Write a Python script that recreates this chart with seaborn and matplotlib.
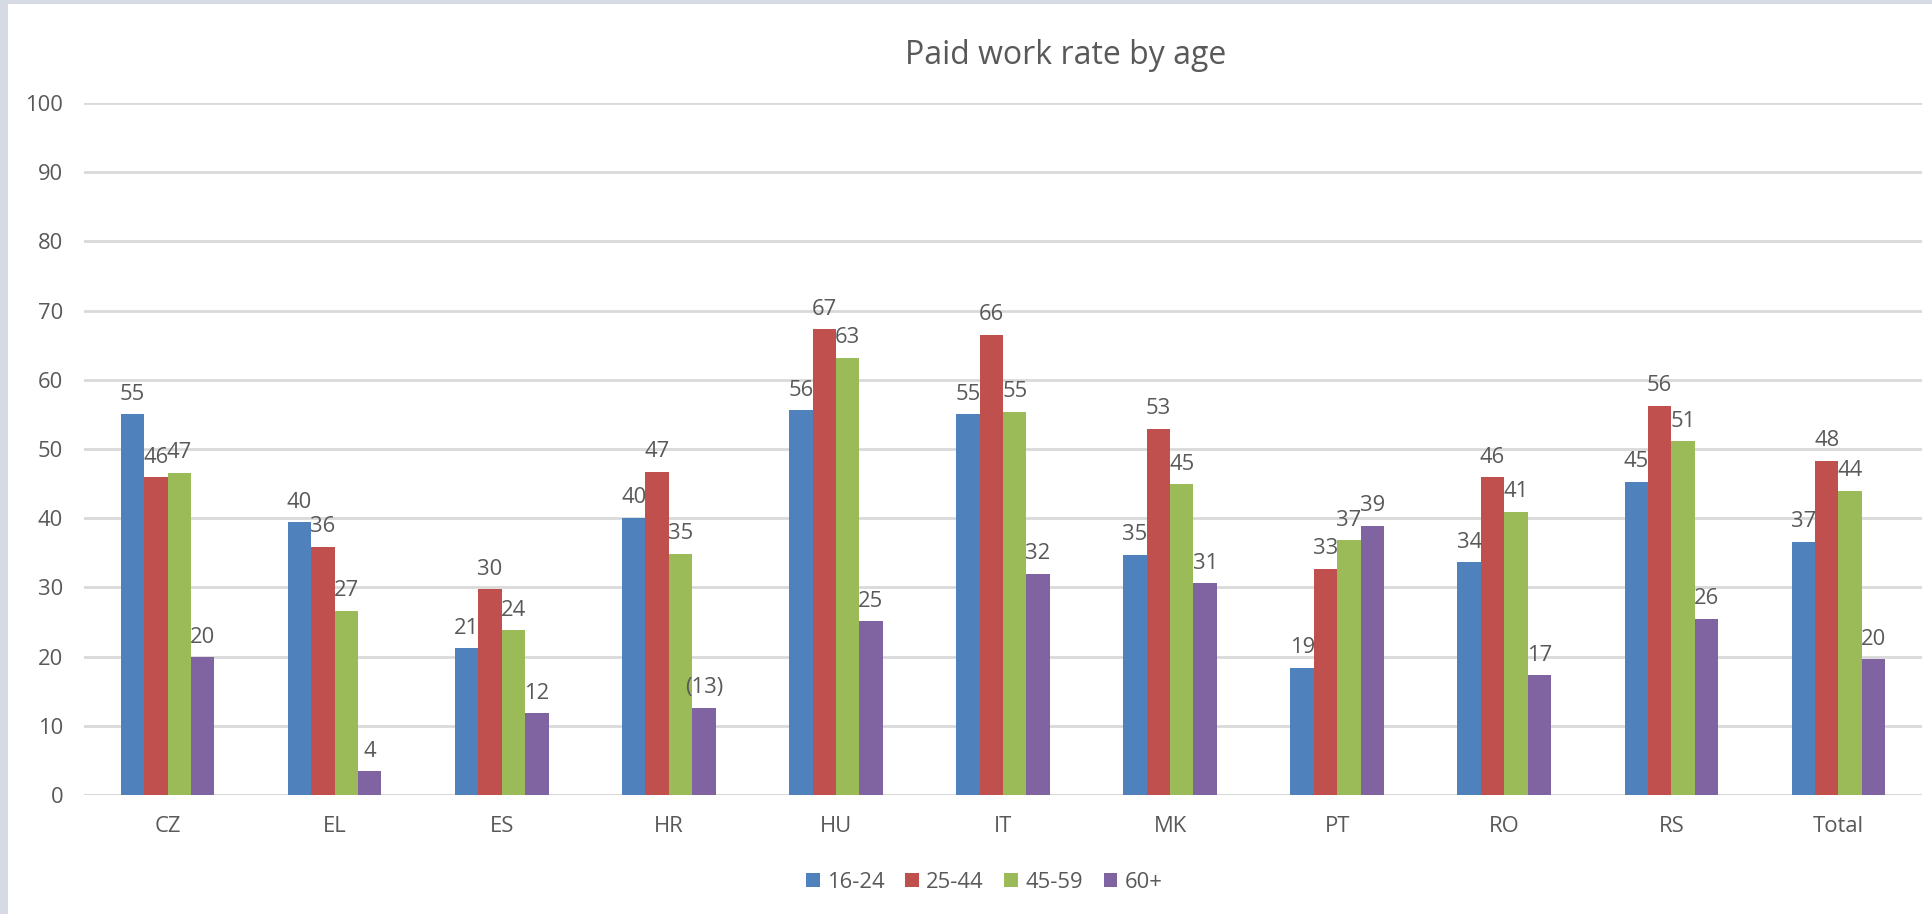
import matplotlib
matplotlib.use("Agg")
import matplotlib.pyplot as plt
from matplotlib.patches import Rectangle
import seaborn as sns
import pandas as pd

countries = ["CZ", "EL", "ES", "HR", "HU", "IT", "MK", "PT", "RO", "RS", "Total"]
age_groups = ["16-24", "25-44", "45-59", "60+"]
v_16_24 = [55.0, 39.4, 21.2, 40.1, 55.6, 55.0, 34.7, 18.4, 33.6, 45.3, 36.6]
v_25_44 = [45.9, 35.9, 29.7, 46.7, 67.3, 66.5, 52.9, 32.7, 45.9, 56.2, 48.3]
v_45_59 = [46.6, 26.6, 23.8, 34.8, 63.2, 55.4, 44.9, 36.8, 40.9, 51.1, 44.0]
v_60p = [19.9, 3.4, 11.8, 12.6, 25.1, 32.0, 30.6, 38.9, 17.3, 25.5, 19.6]
lab_16_24 = ["55", "40", "21", "40", "56", "55", "35", "19", "34", "45", "37"]
lab_25_44 = ["46", "36", "30", "47", "67", "66", "53", "33", "46", "56", "48"]
lab_45_59 = ["47", "27", "24", "35", "63", "55", "45", "37", "41", "51", "44"]
lab_60p = ["20", "4", "12", "(13)", "25", "32", "31", "39", "17", "26", "20"]
title = "Paid work rate by age"

colors = ["#4F81BD", "#C0504D", "#9BBB59", "#8064A2"]
text_color = "#595959"
grid_color = "#D9D9D9"

series = [v_16_24, v_25_44, v_45_59, v_60p]
labels = [lab_16_24, lab_25_44, lab_45_59, lab_60p]
rows = []
for g, vals in zip(age_groups, series):
    for c, v in zip(countries, vals):
        rows.append({"country": c, "age": g, "value": v})
df = pd.DataFrame(rows)

sns.set_theme(style="white")
plt.rcParams["font.family"] = ["Open Sans", "DejaVu Sans"]

FS = 15.8
W, H = 1932, 914
fig = plt.figure(figsize=(W / 100, H / 100), dpi=100)
fig.patch.set_facecolor("white")
left, right, top, bottom = 84, 1922, 103, 795
ax = fig.add_axes([left / W, 1 - bottom / H, (right - left) / W, (bottom - top) / H])

sns.barplot(data=df, x="country", y="value", hue="age", order=countries,
            hue_order=age_groups, palette=colors, width=0.56, gap=0,
            saturation=1, linewidth=0, ax=ax, legend=True)

for cont, labs in zip(ax.containers, labels):
    ax.bar_label(cont, labels=labs, padding=7, fontsize=FS, color=text_color)

ax.set_ylim(0, 100)
ax.set_xlim(-0.5, len(countries) - 0.5)
ax.set_yticks(range(0, 101, 10))
ax.yaxis.grid(True, color=grid_color, linewidth=2)
ax.set_axisbelow(True)
for s in ax.spines.values():
    s.set_visible(False)
ax.axhline(0, color=grid_color, linewidth=2.2, zorder=0.5)
ax.tick_params(axis="y", length=0, pad=15, labelsize=FS, labelcolor=text_color)
ax.tick_params(axis="x", length=0, pad=15, labelsize=FS, labelcolor=text_color)
ax.set_xlabel("")
ax.set_ylabel("")

leg = ax.legend(loc="center", bbox_to_anchor=(984 / W, 1 - 882 / H),
                bbox_transform=fig.transFigure, ncol=4, frameon=False,
                fontsize=FS, handlelength=0.63, handleheight=0.63,
                handletextpad=0.32, columnspacing=0.95)
for t in leg.get_texts():
    t.set_color(text_color)

fig.text(1066 / W, 1 - 56 / H, title, ha="center", va="center",
         fontsize=23, color=text_color)

fig.patches.append(Rectangle((0, 0), 8 / W, 1, transform=fig.transFigure,
                             facecolor="#D6DAE2", edgecolor="none", zorder=10))
fig.patches.append(Rectangle((0, 1 - 4 / H), 1, 4 / H, transform=fig.transFigure,
                             facecolor="#D6DAE2", edgecolor="none", zorder=10))

fig.savefig("out.png", dpi=100, facecolor="white")
